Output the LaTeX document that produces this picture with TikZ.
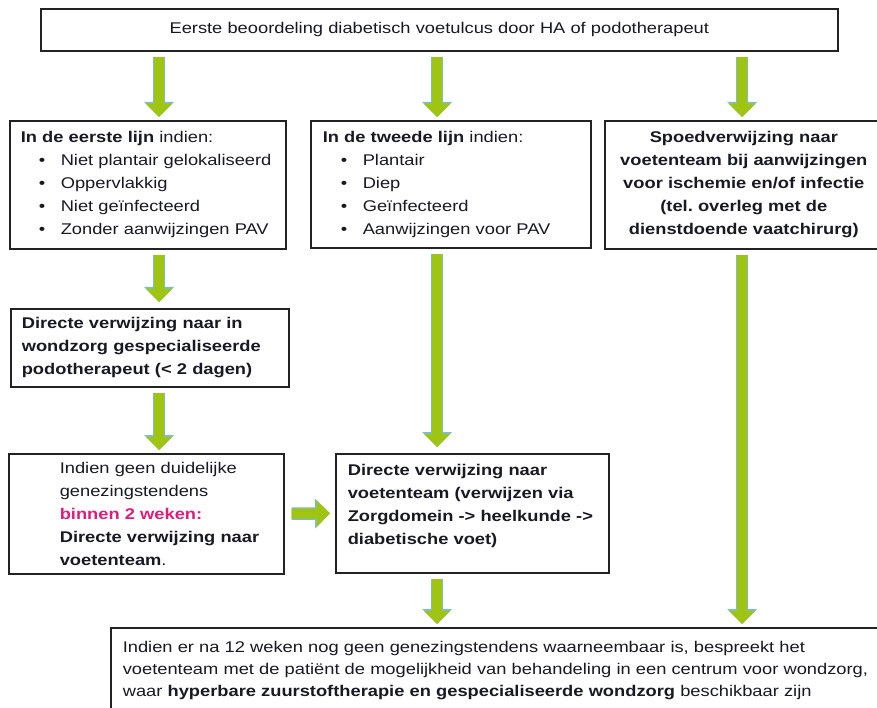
\documentclass[tikz,border=0pt]{standalone}
\usepackage{fontspec}
\setmainfont{Liberation Sans}[FakeStretch=1.18]
\usepackage{tikz}
\usetikzlibrary{arrows.meta,positioning,calc}
\definecolor{vtgreen}{RGB}{160,196,18}
\definecolor{vtedge}{RGB}{125,190,190}
\definecolor{vtpink}{RGB}{222,30,122}
\definecolor{vtframe}{RGB}{35,35,35}
\definecolor{vttext}{RGB}{25,25,35}
\newcommand{\vtsize}{\fontsize{15.5}{23}\selectfont}
\newcommand{\vtitem}{\hspace*{18pt}\makebox[22pt][l]{\textbullet}}
\tikzset{
  vtbox/.style={
    draw=vtframe,
    line width=1.6pt,
    anchor=north west,
    inner xsep=0pt,
    inner ysep=0pt,
    align=left,
    text=vttext,
    font=\vtsize
  },
  vtarrow/.style={
    line width=10pt,
    draw=vtgreen,
    -{Triangle[length=13pt,width=26pt,line width'=0pt]},
    preaction={draw=vtedge,line width=12.5pt,
      -{Triangle[length=15pt,width=30pt,line width'=0pt]}},
    shorten <=5pt,
    shorten >=3pt
  }
}

\begin{document}
\begin{tikzpicture}[x=1pt,y=-1pt]
  \useasboundingbox[fill=white] (0,0) rectangle (877,708);
  \node[vtbox,align=center,text width=797pt,minimum height=42pt] (top) at (40,8)
    {Eerste beoordeling diabetisch voetulcus door HA of podotherapeut};
  \node[vtbox,text width=276pt,minimum height=128pt] (first) at (9,120)
    {\leftskip=11pt \textbf{In de eerste lijn} indien:\\
     \vtitem Niet plantair gelokaliseerd\\
     \vtitem Oppervlakkig\\
     \vtitem Niet geïnfecteerd\\
     \vtitem Zonder aanwijzingen PAV\par};
  \node[vtbox,text width=280pt,minimum height=127pt] (second) at (310,120)
    {\leftskip=12pt \textbf{In de tweede lijn} indien:\\
     \vtitem Plantair\\
     \vtitem Diep\\
     \vtitem Geïnfecteerd\\
     \vtitem Aanwijzingen voor PAV\par};
  \node[vtbox,align=center,text width=278pt,minimum height=128pt,font=\vtsize\bfseries] (urgent) at (604,120)
    {Spoedverwijzing naar\\
     voetenteam bij aanwijzingen\\
     voor ischemie en/of infectie\\
     (tel.\ overleg met de\\
     dienstdoende vaatchirurg)};
  \node[vtbox,text width=278pt,minimum height=78pt,font=\vtsize\bfseries] (podo) at (10,308)
    {\leftskip=11pt Directe verwijzing naar in\\
     wondzorg gespecialiseerde\\
     podotherapeut (< 2 dagen)\par};
  \node[vtbox,text width=275pt,minimum height=120pt] (nocure) at (8,453)
    {\leftskip=51pt \mbox{Indien geen duidelijke}\\
     genezingstendens\\
     \textbf{\color{vtpink}binnen 2 weken:}\\
     \mbox{\textbf{Directe verwijzing naar}}\\
     \textbf{voetenteam}.\par};
  \node[vtbox,text width=273pt,minimum height=119pt,font=\vtsize\bfseries] (team) at (335,453)
    {\leftskip=12pt Directe verwijzing naar\\
     voetenteam (verwijzen via\\
     Zorgdomein -> heelkunde ->\\
     diabetische voet)\par\vspace*{14pt}};
  \node[vtbox,text width=800pt,minimum height=86pt,font=\fontsize{15.5}{22}\selectfont] (centre) at (110,627)
    {\leftskip=12pt Indien er na 12 weken nog geen genezingstendens waarneembaar is, bespreekt het\\
     voetenteam met de patiënt de mogelijkheid van behandeling in een centrum voor wondzorg,\\
     waar \textbf{hyperbare zuurstoftherapie en gespecialiseerde wondzorg} beschikbaar zijn\par};
  % green arrows
  \coordinate (colA) at (159,0);
  \coordinate (colB) at (437,0);
  \coordinate (colC) at (742,0);
  \draw[vtarrow] (top.south -| colA) -- (first.north -| colA);
  \draw[vtarrow] (top.south -| colB) -- (second.north -| colB);
  \draw[vtarrow] (top.south -| colC) -- (urgent.north -| colC);
  \draw[vtarrow,shorten >=6pt] (first.south -| colA) -- (podo.north -| colA);
  \draw[vtarrow] (podo.south -| colA) -- (nocure.north -| colA);
  \draw[vtarrow,shorten >=6pt] (second.south -| colB) -- (team.north -| colB);
  \draw[vtarrow,shorten <=7pt,shorten >=5pt] (nocure.east) -- (team.west);
  \draw[vtarrow] (team.south -| colB) -- (centre.north -| colB);
  \draw[vtarrow] (urgent.south -| colC) -- (centre.north -| colC);
\end{tikzpicture}
\end{document}
